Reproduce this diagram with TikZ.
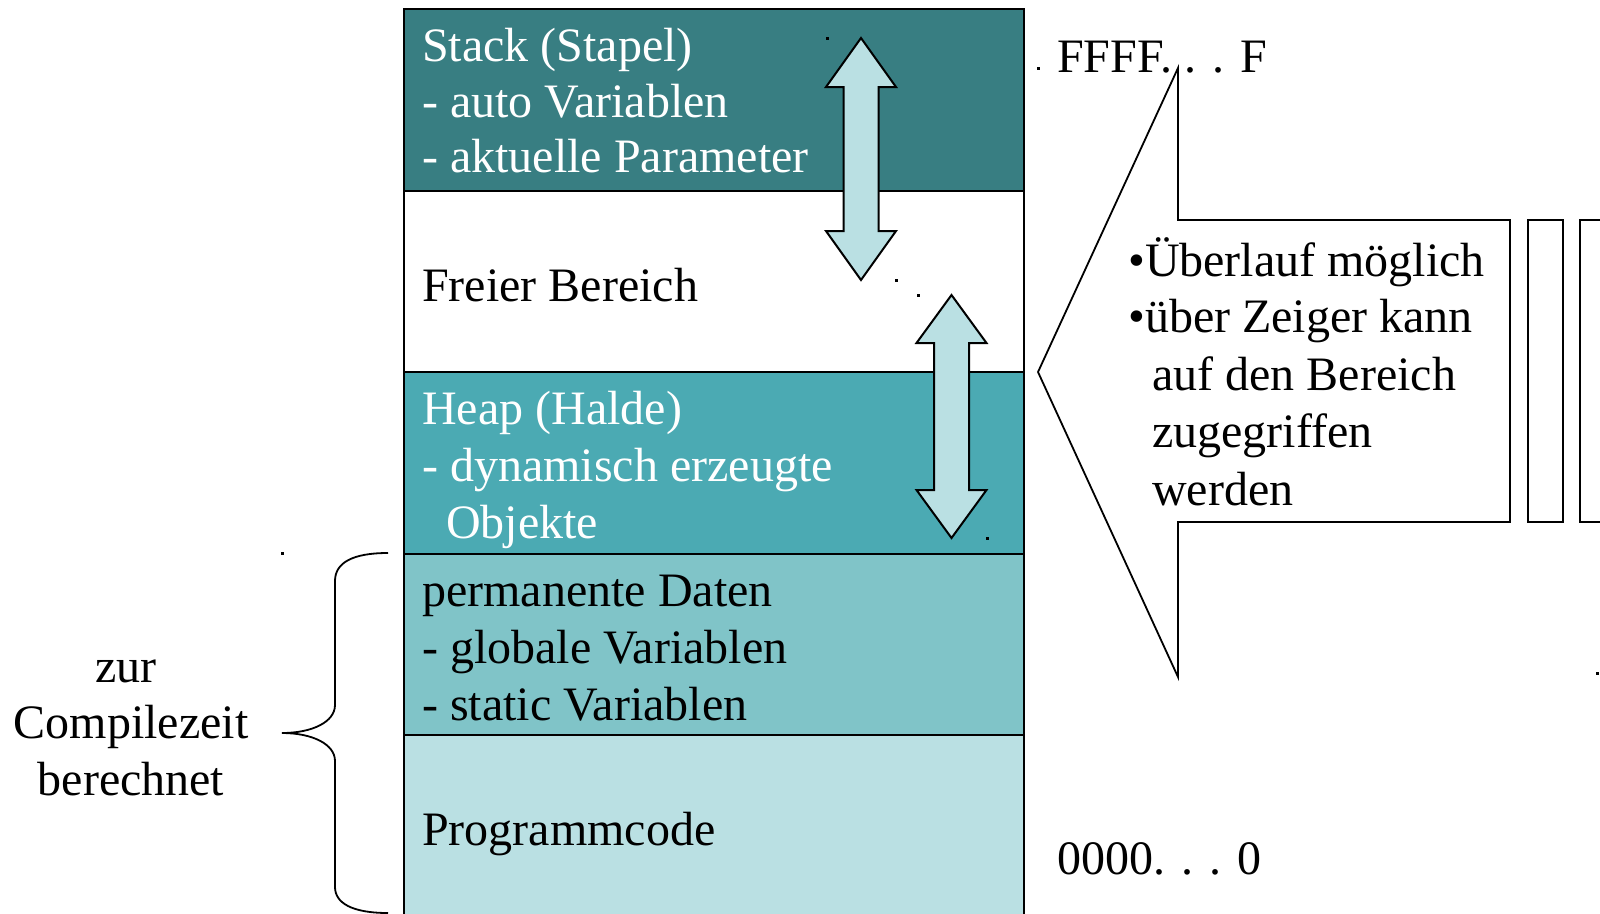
\documentclass[tikz,border=0pt]{standalone}
\usepackage{fontspec}
\setmainfont{Liberation Serif}
\definecolor{stackcol}{HTML}{387E82}
\definecolor{heapcol}{HTML}{4BAAB3}
\definecolor{permcol}{HTML}{80C4C8}
\definecolor{codecol}{HTML}{BAE0E3}
\begin{document}
\begin{tikzpicture}[x=1pt,y=-1pt,
  seg/.style={draw=black, line width=2pt, anchor=north west, inner sep=0pt,
    minimum width=620pt, minimum height=181.5pt},
  lbl/.style={anchor=base west, inner sep=0pt, font=\fontsize{48}{56}\selectfont},
  clbl/.style={lbl, anchor=base},
  wlbl/.style={lbl, text=white},
  dblarrow/.style={draw=black, line width=2pt, fill=codecol, line join=miter},
  outline/.style={draw=black, line width=1.8pt, fill=white},
  speck/.style={fill=black}]
\useasboundingbox (0,0) rectangle (1600,913);
\clip (0,0) rectangle (1600,913);

% memory segments, top = high addresses
\node[seg, fill=stackcol] (stack) at (403,8) {};
\node[seg, fill=white]    (free)  at (403,189.5) {};
\node[seg, fill=heapcol]  (heap)  at (403,371) {};
\node[seg, fill=permcol]  (perm)  at (403,552.5) {};
\node[seg, fill=codecol, minimum height=200pt] (code) at (403,734) {};

% segment labels
\node[wlbl] (s1) at (422,61.5)  {Stack (Stapel)};
\node[wlbl] (s2) at (422,117)   {- auto Variablen};
\node[wlbl] (s3) at (422,172.5) {- aktuelle Parameter};
\node[lbl]  (f1) at (422,301)   {Freier Bereich};
\node[wlbl] (h1) at (422,424.5) {Heap (Halde)};
\node[wlbl] (h2) at (422,481)   {- dynamisch erzeugte};
\node[wlbl] (h3) at (446,538)   {Objekte};
\node[lbl]  (p1) at (422,606)   {permanente Daten};
\node[lbl]  (p2) at (422,663)   {- globale Variablen};
\node[lbl]  (p3) at (422,720)   {- static Variablen};
\node[lbl]  (c1) at (422,845)   {Programmcode};

% growth arrows of stack and heap
\draw[dblarrow] (861,38) -- (896,87) -- (878.5,87) -- (878.5,231) -- (896,231)
  -- (861,280) -- (826,231) -- (843.5,231) -- (843.5,87) -- (826,87) -- cycle;
\draw[dblarrow] (951.5,295) -- (986.5,343) -- (969,343) -- (969,490) -- (986.5,490)
  -- (951.5,538) -- (916.5,490) -- (934,490) -- (934,343) -- (916.5,343) -- cycle;

% address labels
\node[lbl] (hi) at (1057,72) {FFFF. . . F};
\node[lbl] (lo) at (1057,874) {0000. . . 0};

% callout arrow pointing at the free area
\draw[outline] (1038,372) -- (1178,68) -- (1178,220) -- (1510,220) -- (1510,522)
  -- (1178,522) -- (1178,677) -- cycle;
\draw[outline] (1528,220) rectangle (1563,522);
\draw[outline] (1580,220) rectangle (1616,522);
\node[lbl] (b1) at (1128,276)   {•Überlauf möglich};
\node[lbl] (b2) at (1128,332.5) {•über Zeiger kann};
\node[lbl] (b3) at (1152,390)   {auf den Bereich};
\node[lbl] (b4) at (1152,447)   {zugegriffen};
\node[lbl] (b5) at (1152,505)   {werden};

% brace over the statically sized segments
\coordinate (brtop) at (388,553);
\coordinate (brtip) at (282,733);
\coordinate (brbot) at (388,913);
\draw[line width=1.8pt] (brtop) .. controls (352,553) and (335,563) .. (335,581)
  -- (335,705) .. controls (335,722) and (312,733) .. (brtip)
  .. controls (312,733) and (335,744) .. (335,761)
  -- (335,887) .. controls (335,903) and (352,913) .. (brbot);
\node[clbl] (z1) at (126,682) {zur};
\node[clbl] (z2) at (131,738) {Compilezeit};
\node[clbl] (z3) at (131,795) {berechnet};

% stray marks
\foreach \p in {(826,37),(1037,67),(895,279),(917,294),(986,537),(281,552),(1596,672)}
  \fill[speck] \p rectangle ++(2.5,2.5);
\end{tikzpicture}
\end{document}
